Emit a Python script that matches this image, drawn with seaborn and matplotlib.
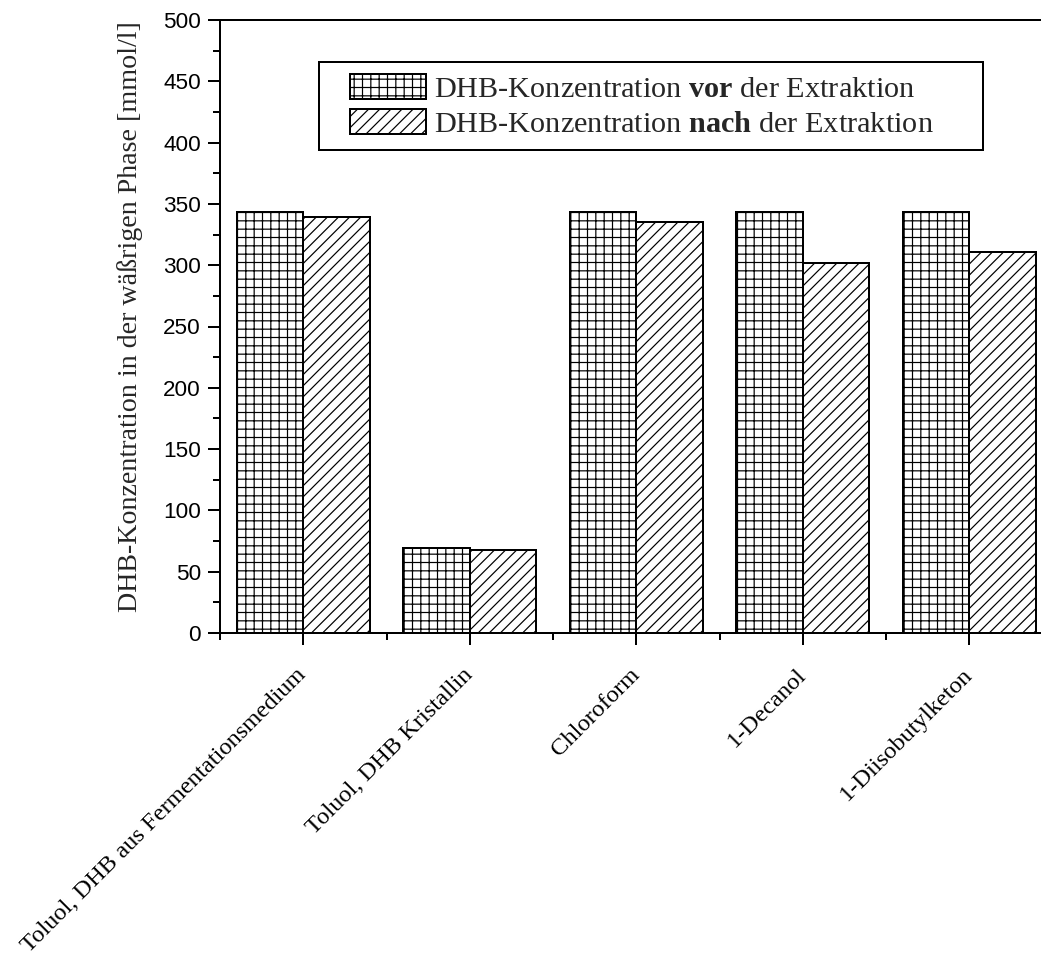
import matplotlib
matplotlib.use("Agg")
import matplotlib.pyplot as plt
import seaborn as sns
import pandas as pd
from matplotlib.patches import Rectangle
from matplotlib.legend_handler import HandlerPatch
from matplotlib.ticker import MultipleLocator, FixedLocator

# ---- data ----
categories = ["Toluol, DHB aus Fermentationsmedium", "Toluol, DHB Kristallin",
              "Chloroform", "1-Decanol", "1-Diisobutylketon"]
vor = [343, 69, 343, 343, 343]
nach = [339, 68, 335, 302, 311]
series = ["vor", "nach"]
legend_labels = [r"DHB-Konzentration $\mathbf{vor}$ der Extraktion",
                 r"DHB-Konzentration $\mathbf{nach}$ der Extraktion"]
yticks = list(range(0, 501, 50))
ylabel = "DHB-Konzentration in der wäßrigen Phase [mmol/l]"

DPI = 200
PX = 72 / DPI
W, H = 1041, 959

sns.set_theme(style="ticks")
plt.rcParams.update({
    "font.family": ["Liberation Sans", "DejaVu Sans"],
    "mathtext.fontset": "custom",
    "mathtext.rm": "Liberation Serif",
    "mathtext.bf": "Liberation Serif:bold",
    "mathtext.it": "Liberation Serif:italic",
    "hatch.color": "black",
    "hatch.linewidth": 1.2 * PX,
    "axes.edgecolor": "black",
    "xtick.color": "black",
    "ytick.color": "black",
})

df = pd.DataFrame({
    "Lösungsmittel": categories * 2,
    "Konzentration": vor + nach,
    "Messung": [series[0]] * len(vor) + [series[1]] * len(nach),
})

fig = plt.figure(figsize=(W / DPI, H / DPI), dpi=DPI)
fig.patch.set_facecolor("white")
ax = fig.add_axes([220 / W, 1 - 633 / H, 832.5 / W, 613 / H])

sns.barplot(data=df, x="Lösungsmittel", y="Konzentration", hue="Messung",
            hue_order=series, palette=["white", "white"], saturation=1,
            edgecolor="black", linewidth=2 * PX, width=0.8, legend=False,
            errorbar=None, ax=ax)

hatches = ["++++", "//////"]
for cont, h in zip(ax.containers, hatches):
    for p in cont:
        p.set_hatch(h)
        p.set_edgecolor("black")

ax.set_xlim(-0.5, 4.5)
ax.set_ylim(0, 500)
ax.yaxis.set_major_locator(FixedLocator(yticks))
ax.yaxis.set_minor_locator(MultipleLocator(25))
ax.set_xticks(range(len(categories)))
ax.xaxis.set_minor_locator(FixedLocator([i - 0.5 for i in range(len(categories) + 1)]))
ax.set_xticklabels(categories, rotation=45, ha="right", va="center",
                   rotation_mode="anchor", fontsize=24.5 * PX, family="Liberation Serif")
for lab in ax.get_yticklabels():
    lab.set_fontsize(22.5 * PX)

ax.tick_params(axis="both", which="major", direction="out", length=12 * PX, width=2 * PX)
ax.tick_params(axis="both", which="minor", direction="out", length=7 * PX, width=2 * PX)
ax.tick_params(axis="x", which="major", pad=27 * PX)
ax.tick_params(axis="y", which="major", pad=7 * PX)
for s in ax.spines.values():
    s.set_linewidth(2 * PX)
    s.set_color("black")

ax.set_xlabel("")
ax.set_ylabel(ylabel, fontsize=28 * PX, family="Liberation Serif")
ax.yaxis.set_label_coords(-0.0925, 0.517)


def make_patch(legend, orig_handle, xdescent, ydescent, width, height, fontsize):
    off = width * 0.2
    return Rectangle((-xdescent + off, -ydescent), width - off, height)


handles = [ax.containers[0][0], ax.containers[1][0]]
LFS = 30.3
leg = ax.legend(handles, legend_labels,
                handler_map={h: HandlerPatch(patch_func=make_patch) for h in handles},
                loc="upper left", mode="expand",
                bbox_to_anchor=((319 - 220) / 832.5, 0, (983 - 319) / 832.5, (633 - 62) / 613),
                borderaxespad=0, borderpad=0.38, handlelength=95 / LFS, handleheight=0.9,
                handletextpad=0.27, labelspacing=0.22, fancybox=False, shadow=False,
                framealpha=1, edgecolor="black",
                prop={"family": "Liberation Serif", "size": LFS * PX})
leg.get_frame().set_linewidth(2 * PX)

fig.savefig("out.png", dpi=DPI, facecolor="white")
